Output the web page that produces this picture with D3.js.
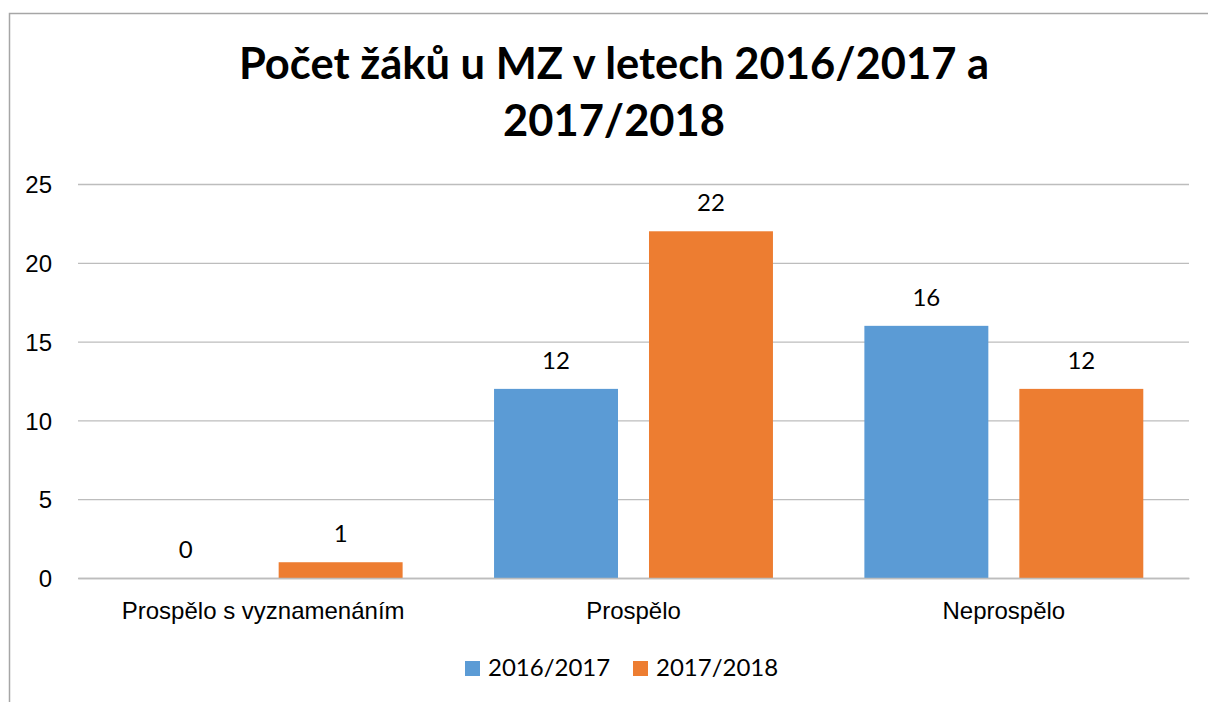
<!DOCTYPE html>
<html lang="cs">
<head>
<meta charset="UTF-8">
<title>Počet žáků u MZ</title>
<script src="https://d3js.org/d3.v7.min.js"></script>
<style>
  body { margin: 0; background: #fff; }
  svg { display: block; font-family: Lato, "Open Sans", sans-serif; }
</style>
</head>
<body>
<svg id="chart" width="1208" height="702"></svg>
<script>
// data
const categories = ["Prospělo s vyznamenáním", "Prospělo", "Neprospělo"];
const seriesNames = ["2016/2017", "2017/2018"];
const values2016 = [0, 12, 16];
const values2017 = [1, 22, 12];
const yTicks = [0, 5, 10, 15, 20, 25];
const titleLines = ["Počet žáků u MZ v letech 2016/2017 a", "2017/2018"];

const colors = ["#5B9BD5", "#ED7D31"];
const svg = d3.select("#chart");

// outer frame (runs past right/bottom edge like the screenshot)
svg.append("rect")
  .attr("x", 9.5).attr("y", 13.5)
  .attr("width", 1300).attr("height", 800)
  .attr("fill", "none").attr("stroke", "#A6A6A6").attr("stroke-width", 1.5);

const x0 = d3.scaleBand().domain(categories).range([78, 1189]);
const x1 = d3.scaleBand().domain(seriesNames)
  .range([0, x0.bandwidth()]).paddingInner(0.2).paddingOuter(0.295);
const y = d3.scaleLinear().domain([0, 25]).range([578, 184]);

// gridlines + y labels
const yAxis = d3.axisLeft(y).tickValues(yTicks)
  .tickSize(-(1189 - 78)).tickPadding(26);
const gy = svg.append("g").attr("transform", "translate(78,0)").call(yAxis);
gy.select(".domain").remove();
gy.selectAll(".tick line").attr("stroke", "#BDBDBD").attr("stroke-width", 1.3);
gy.selectAll(".tick text").attr("fill", "#000").style("font-size", "24px")
  .attr("dy", "0.36em");

// title
svg.append("g").selectAll("text").data(titleLines).join("text")
  .attr("x", 614).attr("y", (d, i) => 79 + i * 57)
  .attr("text-anchor", "middle")
  .style("font-size", "43.5px").style("font-weight", "bold")
  .text(d => d);

// bars
const rows = categories.map((c, i) => ({
  cat: c,
  vals: [values2016[i], values2017[i]]
}));
const groups = svg.append("g").selectAll("g").data(rows).join("g")
  .attr("transform", d => `translate(${x0(d.cat)},0)`);

groups.selectAll("rect").data(d => d.vals.map((v, j) => ({ s: seriesNames[j], v, j })))
  .join("rect")
  .attr("x", d => x1(d.s))
  .attr("y", d => y(d.v))
  .attr("width", x1.bandwidth())
  .attr("height", d => y(0) - y(d.v))
  .attr("fill", d => colors[d.j]);

// data labels
groups.selectAll("text").data(d => d.vals.map((v, j) => ({ s: seriesNames[j], v })))
  .join("text")
  .attr("x", d => x1(d.s) + x1.bandwidth() / 2)
  .attr("y", d => y(d.v) - 20)
  .attr("text-anchor", "middle")
  .style("font-size", "24px")
  .text(d => d.v);

// category axis
const xAxis = d3.axisBottom(x0).tickSize(0).tickPadding(0);
const gx = svg.append("g").attr("transform", "translate(0,578)").call(xAxis);
gx.select(".domain").attr("stroke", "#BDBDBD").attr("stroke-width", 1.3);
gx.selectAll(".tick text").attr("fill", "#000").attr("dy", null).attr("y", 41)
  .style("font-size", "24px");

// legend
const legend = svg.append("g").selectAll("g").data(seriesNames).join("g")
  .attr("transform", (d, i) => `translate(${465 + i * 168},661)`);
legend.append("rect").attr("width", 15).attr("height", 15)
  .attr("fill", (d, i) => colors[i]);
legend.append("text").attr("x", 23).attr("y", 15)
  .style("font-size", "24px").text(d => d);
</script>
</body>
</html>
